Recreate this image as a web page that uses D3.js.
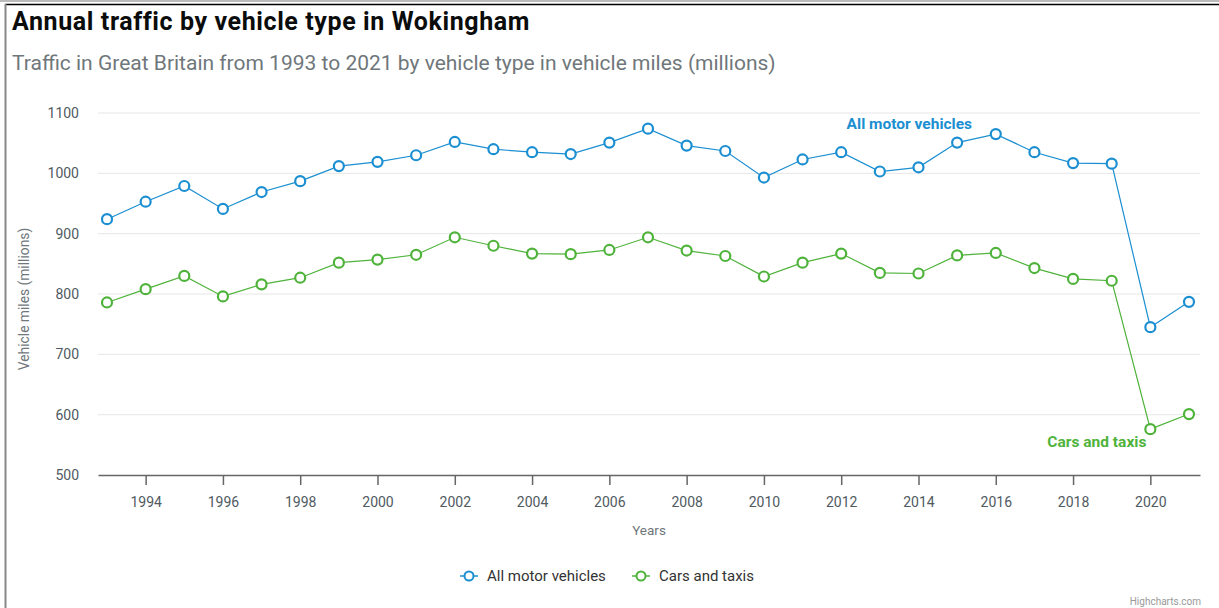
<!DOCTYPE html>
<html>
<head>
<meta charset="utf-8">
<script src="https://cdn.jsdelivr.net/npm/d3@7"></script>
<style>
  body { margin: 0; background: #fff; }
  svg text { font-family: Roboto, "Noto Sans", sans-serif; }
</style>
</head>
<body>
<div id="chart"></div>
<script>
// Datos
const years = d3.range(1993, 2022);
const allMotorVehicles = [924, 953, 979, 941, 969, 987, 1012, 1019, 1030, 1052,
  1040, 1035, 1032, 1051, 1074, 1046, 1037, 993, 1023, 1035,
  1003, 1010, 1051, 1065, 1035, 1017, 1016, 745, 787];
const carsAndTaxis = [786, 808, 830, 796, 816, 827, 852, 857, 865, 894,
  880, 867, 866, 873, 894, 872, 863, 829, 852, 867,
  835, 834, 864, 868, 843, 825, 822, 576, 601];
const yTicks = [500, 600, 700, 800, 900, 1000, 1100];
const xTicks = d3.range(1994, 2021, 2);

const series = [
  { name: 'All motor vehicles', values: allMotorVehicles, color: '#1b8fd1' },
  { name: 'Cars and taxis', values: carsAndTaxis, color: '#4fb33b' }
];

const W = 1219, H = 608;
const margin = { top: 113, right: 19, bottom: 133, left: 98 };

const svg = d3.select('#chart').append('svg')
  .attr('width', W).attr('height', H);

// Marco
svg.append('line').attr('x1', 0).attr('x2', W).attr('y1', 1).attr('y2', 1)
  .attr('stroke', '#bbb').attr('stroke-width', 2);
svg.append('line').attr('x1', 5).attr('x2', W).attr('y1', 4.5).attr('y2', 4.5)
  .attr('stroke', '#000').attr('stroke-width', 1.5);
svg.append('line').attr('x1', 5.5).attr('x2', 5.5).attr('y1', 4).attr('y2', H)
  .attr('stroke', '#888').attr('stroke-width', 2);

// Titulos
svg.append('text').attr('x', 12).attr('y', 30)
  .attr('font-size', 25).attr('font-weight', 'bold').attr('fill', '#0b0c0c')
  .attr('letter-spacing', 0.6)
  .text('Annual traffic by vehicle type in Wokingham');
svg.append('text').attr('x', 12).attr('y', 70)
  .attr('font-size', 21).attr('fill', '#6f777b')
  .text('Traffic in Great Britain from 1993 to 2021 by vehicle type in vehicle miles (millions)');

const x = d3.scaleLinear()
  .domain([1992.767, 2021.285])
  .range([margin.left, W - margin.right]);
const y = d3.scaleLinear()
  .domain([500, 1100])
  .range([H - margin.bottom, margin.top]);

// Rejilla
svg.append('g')
  .selectAll('line')
  .data(yTicks.filter(d => d > 500))
  .join('line')
  .attr('x1', margin.left).attr('x2', W - margin.right)
  .attr('y1', d => y(d)).attr('y2', d => y(d))
  .attr('stroke', '#e6e6e6').attr('stroke-width', 1);

// Eje Y
const yAxis = svg.append('g')
  .attr('transform', `translate(${margin.left},0)`)
  .call(d3.axisLeft(y).tickValues(yTicks).tickFormat(d3.format('d'))
    .tickSize(0).tickPadding(19));
yAxis.select('.domain').remove();
yAxis.selectAll('text').attr('font-size', 14).attr('fill', '#505a5f')
  .attr('font-family', 'Roboto, sans-serif');

svg.append('text')
  .attr('transform', `translate(29,299) rotate(-90)`)
  .attr('text-anchor', 'middle')
  .attr('font-size', 13.8).attr('fill', '#6f777b')
  .text('Vehicle miles (millions)');

// Eje X
const xAxis = svg.append('g')
  .attr('transform', `translate(0,${y(500)})`)
  .call(d3.axisBottom(x).tickValues(xTicks).tickFormat(d3.format('d'))
    .tickSize(10).tickSizeOuter(0).tickPadding(12));
xAxis.select('.domain').attr('stroke', '#666').attr('stroke-width', 1.5);
xAxis.selectAll('.tick line').attr('stroke', '#666').attr('stroke-width', 1.5);
xAxis.selectAll('text').attr('font-size', 14).attr('fill', '#505a5f')
  .attr('font-family', 'Roboto, sans-serif');

svg.append('text')
  .attr('x', (margin.left + W - margin.right) / 2).attr('y', 535)
  .attr('text-anchor', 'middle')
  .attr('font-size', 13.5).attr('fill', '#6f777b')
  .text('Years');

// Lineas y marcadores
const line = d3.line()
  .x((d, i) => x(years[i]))
  .y(d => y(d));

series.forEach(s => {
  svg.append('path')
    .datum(s.values)
    .attr('d', line)
    .attr('fill', 'none')
    .attr('stroke', s.color)
    .attr('stroke-width', 1.2);
  svg.append('g')
    .selectAll('circle')
    .data(s.values)
    .join('circle')
    .attr('cx', (d, i) => x(years[i]))
    .attr('cy', d => y(d))
    .attr('r', 5)
    .attr('fill', '#fff')
    .attr('stroke', s.color)
    .attr('stroke-width', 2.2);
});

// Etiquetas de serie
svg.append('text')
  .attr('x', 972).attr('y', y(1100) + 16)
  .attr('text-anchor', 'end')
  .attr('font-size', 15.5).attr('font-weight', 'bold').attr('fill', series[0].color)
  .text(series[0].name);
svg.append('text')
  .attr('x', x(2020) - 4).attr('y', y(600) + 32)
  .attr('text-anchor', 'end')
  .attr('font-size', 15.5).attr('font-weight', 'bold').attr('fill', series[1].color)
  .text(series[1].name);

// Leyenda
const legend = svg.append('g').attr('transform', 'translate(460,576)');
const legendX = [0, 172];
series.forEach((s, i) => {
  const g = legend.append('g').attr('transform', `translate(${legendX[i]},0)`);
  g.append('line').attr('x1', 0).attr('x2', 18).attr('y1', 0).attr('y2', 0)
    .attr('stroke', s.color).attr('stroke-width', 1.5);
  g.append('circle').attr('cx', 9).attr('cy', 0).attr('r', 4.5)
    .attr('fill', '#fff').attr('stroke', s.color).attr('stroke-width', 2);
  g.append('text').attr('x', 27).attr('y', 5)
    .attr('font-size', 15).attr('fill', '#333')
    .text(s.name);
});

// Creditos
svg.append('text')
  .attr('x', W - 18).attr('y', 605)
  .attr('text-anchor', 'end')
  .attr('font-size', 10).attr('fill', '#999')
  .text('Highcharts.com');
</script>
</body>
</html>
